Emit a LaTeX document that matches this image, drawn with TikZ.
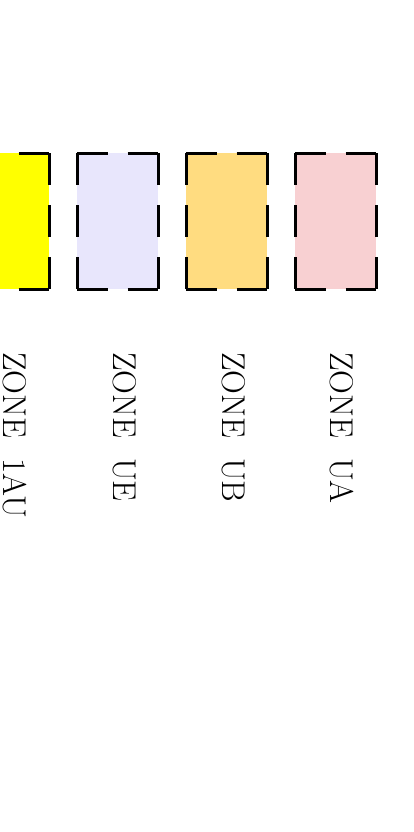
\documentclass[tikz,border=0pt]{standalone}
\usepackage{xcolor}
\usepackage{tikz}
\usetikzlibrary{positioning}

\definecolor{zoneUA}{RGB}{248,208,210}
\definecolor{zoneUB}{RGB}{255,220,128}
\definecolor{zoneUE}{RGB}{232,230,252}
\definecolor{zoneAU}{RGB}{255,255,0}

\begin{document}
\begin{tikzpicture}[x=1pt, y=-1pt,
    hdash/.style={line width=3pt, dash pattern=on 30.5pt off 20pt},
    vdash/.style={line width=3pt, dash pattern=on 32pt off 20pt},
    zonebox/.style={minimum width=81pt, minimum height=136pt, inner sep=0pt, outer sep=0pt,
        append after command={
            (\tikzlastnode.north west) edge[hdash] (\tikzlastnode.north east)
            (\tikzlastnode.north east) edge[vdash] (\tikzlastnode.south east)
            (\tikzlastnode.south west) edge[hdash] (\tikzlastnode.south east)
            (\tikzlastnode.north west) edge[vdash] (\tikzlastnode.south west)}},
    zonelabel/.style={rotate=-90, anchor=base west, inner sep=0pt, font=\fontsize{33}{40}\selectfont}]
    % page frame
    \useasboundingbox (0,0) rectangle (414,832);

    % Colour boxes
    \node[zonebox, fill=zoneAU] (box1au) at (8.5,221) {};
    \node[zonebox, fill=zoneUE] (boxue) at (117.5,221) {};
    \node[zonebox, fill=zoneUB] (boxub) at (226.5,221) {};
    \node[zonebox, fill=zoneUA] (boxua) at (335.5,221) {};

    % Zone names
    \node[zonelabel] (lab1au) at (3,352) {ZONE\ \ 1AU};
    \node[zonelabel] (labue) at (113,352) {ZONE\ \ UE};
    \node[zonelabel] (labub) at (222,352) {ZONE\ \ UB};
    \node[zonelabel] (labua) at (330,352) {ZONE\ \ UA};
\end{tikzpicture}
\end{document}
